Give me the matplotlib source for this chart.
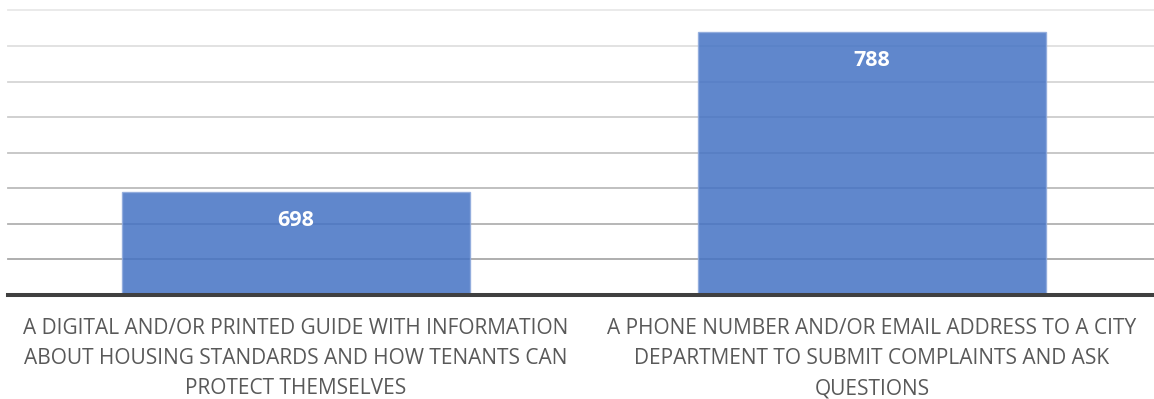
import matplotlib
matplotlib.use("Agg")
import matplotlib.pyplot as plt
import numpy as np

categories = [
    "A DIGITAL AND/OR PRINTED GUIDE WITH INFORMATION\nABOUT HOUSING STANDARDS AND HOW TENANTS CAN\nPROTECT THEMSELVES",
    "A PHONE NUMBER AND/OR EMAIL ADDRESS TO A CITY\nDEPARTMENT TO SUBMIT COMPLAINTS AND ASK\nQUESTIONS",
]
counts = [698, 788]
y_ticks = [660, 680, 700, 720, 740, 760, 780, 800]

plt.rcParams['font.family'] = ['Open Sans', 'DejaVu Sans']

fig = plt.figure(figsize=(11.54, 3.99), dpi=100)
ax = fig.add_axes([8 / 1154, 1 - 295 / 399, 1152 / 1154, 284.5 / 399])

x = np.arange(len(categories))

# gridlines fade from light at the top to darker near the axis
grid_colors = np.linspace(0.66, 0.91, len(y_ticks))
for val, g in zip(y_ticks, grid_colors):
    ax.axhline(val, color=(g, g, g), linewidth=1.3, zorder=1, clip_on=False)

bars = ax.bar(x, [c - 640 for c in counts], bottom=640, width=0.605,
              color='#4472C4', alpha=0.85, edgecolor='#8FAADC', linewidth=1, zorder=2)

for rect, c in zip(bars, counts):
    ax.text(rect.get_x() + rect.get_width() / 2, c - 16, str(c),
            ha='center', va='center', color='white', fontsize=15.5,
            fontweight='bold', zorder=3)

ax.axhline(640, color='#404040', linewidth=2.9, zorder=4, clip_on=False)

ax.set_xlim(-0.5, 1.5)
ax.set_ylim(640, 800)
ax.set_xticks(x)
ax.set_xticklabels(categories, fontsize=15, color='#595959', linespacing=1.58)
ax.tick_params(axis='x', length=0, pad=16.5)
ax.set_yticks([])
for s in ax.spines.values():
    s.set_visible(False)

fig.savefig("out.png", dpi=100)
